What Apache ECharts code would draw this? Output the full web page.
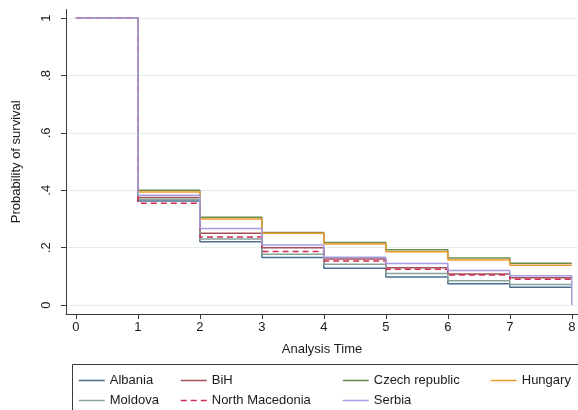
<!DOCTYPE html>
<html>
<head>
<meta charset="utf-8">
<script src="https://cdn.jsdelivr.net/npm/echarts@6/dist/echarts.min.js"></script>
<style>
  html, body { margin: 0; padding: 0; background: #fff; }
  #chart { width: 578px; height: 410px; }
</style>
</head>
<body>
<div id="chart"></div>
<script>
// Kaplan-Meier survival estimates by country, one value per time step
const times = [0, 1, 2, 3, 4, 5, 6, 7, 8];
const albania        = [1, 0.363, 0.221, 0.166, 0.128, 0.098, 0.074, 0.062, 0.062];
const bih            = [1, 0.375, 0.250, 0.200, 0.161, 0.130, 0.108, 0.095, 0.095];
const czechRepublic  = [1, 0.400, 0.306, 0.253, 0.218, 0.193, 0.164, 0.146, 0.146];
const hungary        = [1, 0.394, 0.300, 0.250, 0.213, 0.186, 0.157, 0.139, 0.139];
const moldova        = [1, 0.369, 0.230, 0.177, 0.142, 0.110, 0.085, 0.072, 0.072];
const northMacedonia = [1, 0.355, 0.237, 0.187, 0.154, 0.125, 0.105, 0.090, 0.090];
const serbia         = [1, 0.383, 0.267, 0.209, 0.167, 0.145, 0.121, 0.102, 0];

const xTicks = [0, 1, 2, 3, 4, 5, 6, 7, 8];
const yTicks = [0, 0.2, 0.4, 0.6, 0.8, 1];
const yTickLabels = ['0', '.2', '.4', '.6', '.8', '1'];

const countries = [
  { name: 'Albania',         values: albania,        color: '#4c6e8e', dash: 'solid' },
  { name: 'BiH',             values: bih,            color: '#a4505c', dash: 'solid' },
  { name: 'Czech republic',  values: czechRepublic,  color: '#6c8a4a', dash: 'solid' },
  { name: 'Hungary',         values: hungary,        color: '#eb9a2c', dash: 'solid' },
  { name: 'Moldova',         values: moldova,        color: '#88a49a', dash: 'solid' },
  { name: 'North Macedonia', values: northMacedonia, color: '#cf2d50', dash: [6, 4] },
  { name: 'Serbia',          values: serbia,         color: '#a69ee0', dash: 'solid' }
];

const FONT = 'Liberation Sans, Arial, sans-serif';

const series = countries.map(c => ({
  name: c.name,
  type: 'line',
  step: 'end',
  symbol: 'none',
  silent: true,
  data: times.map((t, i) => [t, c.values[i]]),
  lineStyle: { color: c.color, width: 1.5, type: c.dash },
  itemStyle: { color: c.color }
}));

// legend laid out as a 4-column grid, row by row
const legendSlots = [
  { left: 78,  top: 374 }, { left: 180, top: 374 }, { left: 342, top: 374 }, { left: 490, top: 374 },
  { left: 78,  top: 394 }, { left: 180, top: 394 }, { left: 342, top: 394 }
];
const legends = countries.map((c, i) => ({
  data: [c.name],
  left: legendSlots[i].left,
  top: legendSlots[i].top,
  orient: 'horizontal',
  itemWidth: 26,
  itemHeight: 14,
  itemGap: 0,
  selectedMode: false,
  padding: 0,
  itemStyle: { opacity: 0 },
  lineStyle: { width: 1.5 },
  textStyle: { fontFamily: FONT, fontSize: 13, color: '#1a1a1a', padding: [0, 0, 0, 0] }
}));

const chart = echarts.init(document.getElementById('chart'), null, { renderer: 'canvas' });
chart.setOption({
  backgroundColor: '#ffffff',
  animation: false,
  grid: { left: 66, top: 9.5, width: 512, height: 304.5, containLabel: false, outerBoundsMode: 'none' },
  xAxis: {
    type: 'value',
    min: -0.16,
    max: 8.1,
    name: 'Analysis Time',
    nameLocation: 'middle',
    nameGap: 29,
    nameTextStyle: { fontFamily: FONT, fontSize: 13, color: '#1a1a1a' },
    axisLine: { show: true, onZero: false, lineStyle: { color: '#3a3a3a', width: 1 } },
    axisTick: { show: true, length: 5, customValues: xTicks, lineStyle: { color: '#3a3a3a' } },
    axisLabel: { customValues: xTicks, fontFamily: FONT, fontSize: 13, color: '#1a1a1a', margin: 7 },
    splitLine: { show: false }
  },
  yAxis: {
    type: 'value',
    min: -0.031,
    max: 1.03,
    name: 'Probability of survival',
    nameLocation: 'middle',
    nameGap: 43,
    nameTextStyle: { fontFamily: FONT, fontSize: 13, color: '#1a1a1a' },
    axisLine: { show: true, onZero: false, lineStyle: { color: '#3a3a3a', width: 1 } },
    axisTick: { show: true, length: 5, customValues: yTicks, lineStyle: { color: '#3a3a3a' } },
    axisLabel: {
      customValues: yTicks,
      rotate: 90,
      margin: 13,
      fontFamily: FONT,
      fontSize: 13,
      color: '#1a1a1a',
      formatter: v => {
        const i = yTicks.findIndex(t => Math.abs(t - v) < 1e-9);
        return i >= 0 ? yTickLabels[i] : '';
      }
    },
    splitLine: { show: true, lineStyle: { color: '#e4eef0', width: 1 } }
  },
  legend: legends,
  graphic: [
    {
      type: 'rect',
      shape: { x: 72.5, y: 364.5, width: 520, height: 60 },
      style: { fill: 'none', stroke: '#3a3a3a', lineWidth: 1 },
      silent: true,
      z: 0
    }
  ],
  series: series
});
</script>
</body>
</html>
